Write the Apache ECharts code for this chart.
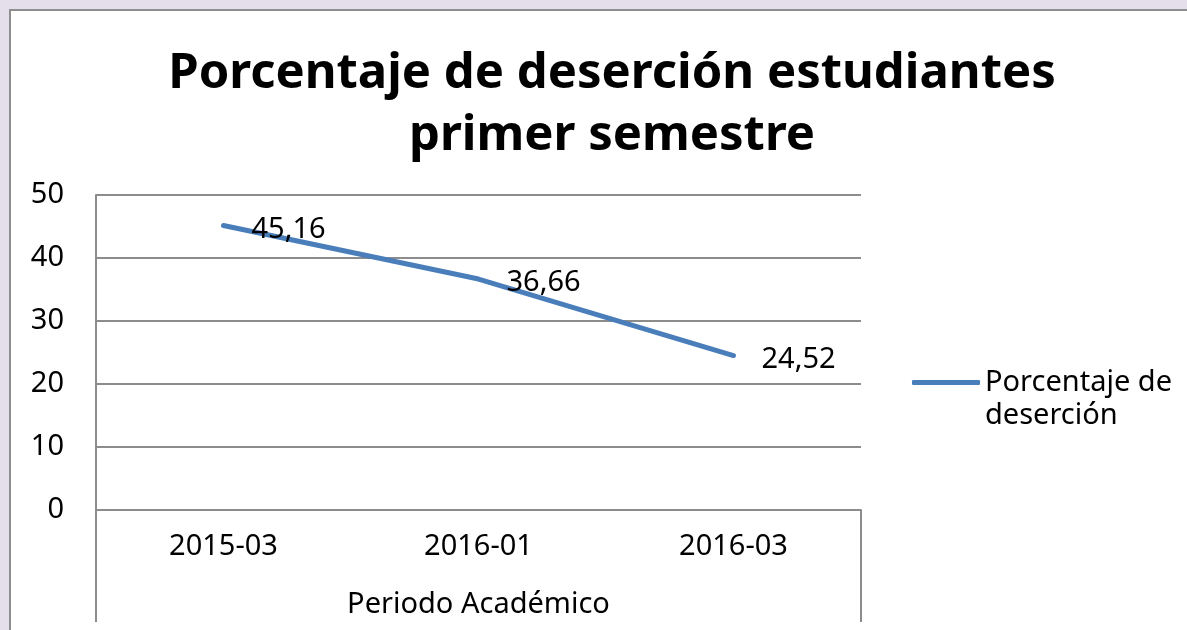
<!DOCTYPE html>
<html>
<head>
<meta charset="utf-8">
<script src="https://cdn.jsdelivr.net/npm/echarts@6/dist/echarts.min.js"></script>
<style>
    html, body { margin: 0; padding: 0; background: #e5dfec; overflow: hidden; }
    .panel {
        position: absolute; left: 9px; top: 9px; width: 1300px; height: 800px;
        background: #fff; border: 2px solid #8e8e8e;
    }
    #chart { position: absolute; left: 0; top: 0; width: 1187px; height: 630px; }
</style>
</head>
<body>
<div class="panel"></div>
<div id="chart"></div>
<script>
    // datos
    const periodos = ['2015-03', '2016-01', '2016-03'];
    const desercion = [45.16, 36.66, 24.52];
    const serieNombre = 'Porcentaje de deserción';

    const font = '"Noto Sans", "Open Sans", sans-serif';
    const gris = '#8c8c8c';

    let chart = echarts.init(document.getElementById('chart'));
    let option = {
        title: {
            text: 'Porcentaje de deserción estudiantes\nprimer semestre',
            left: 607,
            textAlign: 'center',
            top: 38,
            textStyle: {
                fontFamily: font,
                fontSize: 49,
                fontWeight: 'bold',
                lineHeight: 62,
                color: '#000'
            }
        },
        legend: {
            left: 912,
            top: 333,
            padding: 0,
            icon: 'roundRect',
            itemWidth: 68,
            itemHeight: 5,
            itemStyle: { borderWidth: 0 },
            // línea vacía arriba para que el icono quede junto a la primera línea
            formatter: () => ' \nPorcentaje de\ndeserción',
            textStyle: {
                fontFamily: font,
                fontSize: 29,
                lineHeight: 33,
                color: '#000'
            },
            data: [serieNombre]
        },
        grid: {
            left: 96,
            right: 326,
            top: 195,
            bottom: 120
        },
        xAxis: {
            type: 'category',
            data: periodos,
            name: 'Periodo Académico',
            nameLocation: 'middle',
            nameGap: 80,
            nameTextStyle: { fontFamily: font, fontSize: 29, color: '#000' },
            axisLine: { lineStyle: { color: gris, width: 2 } },
            axisTick: {
                show: true,
                length: 112,
                interval: (idx) => idx === 0,
                lineStyle: { color: gris, width: 2 }
            },
            axisLabel: {
                interval: 0,
                margin: 22,
                fontFamily: font,
                fontSize: 29,
                color: '#000'
            }
        },
        yAxis: {
            type: 'value',
            min: 0,
            max: 50,
            interval: 10,
            axisLine: { show: true, lineStyle: { color: gris, width: 2 } },
            axisTick: { show: false },
            splitLine: { lineStyle: { color: gris, width: 2 } },
            axisLabel: {
                margin: 32,
                fontFamily: font,
                fontSize: 29,
                color: '#000'
            }
        },
        series: [
            {
                name: serieNombre,
                type: 'line',
                data: desercion,
                symbol: 'circle',
                symbolSize: 0,
                color: '#4a7ebb',
                lineStyle: { width: 5, cap: 'round', join: 'round' },
                label: {
                    show: true,
                    position: 'right',
                    distance: 28,
                    offset: [0, 4],
                    fontFamily: font,
                    fontSize: 29,
                    color: '#000',
                    formatter: (p) => String(p.value).replace('.', ',')
                },
                animation: false
            }
        ],
        animation: false
    };
    chart.setOption(option);
</script>
</body>
</html>
